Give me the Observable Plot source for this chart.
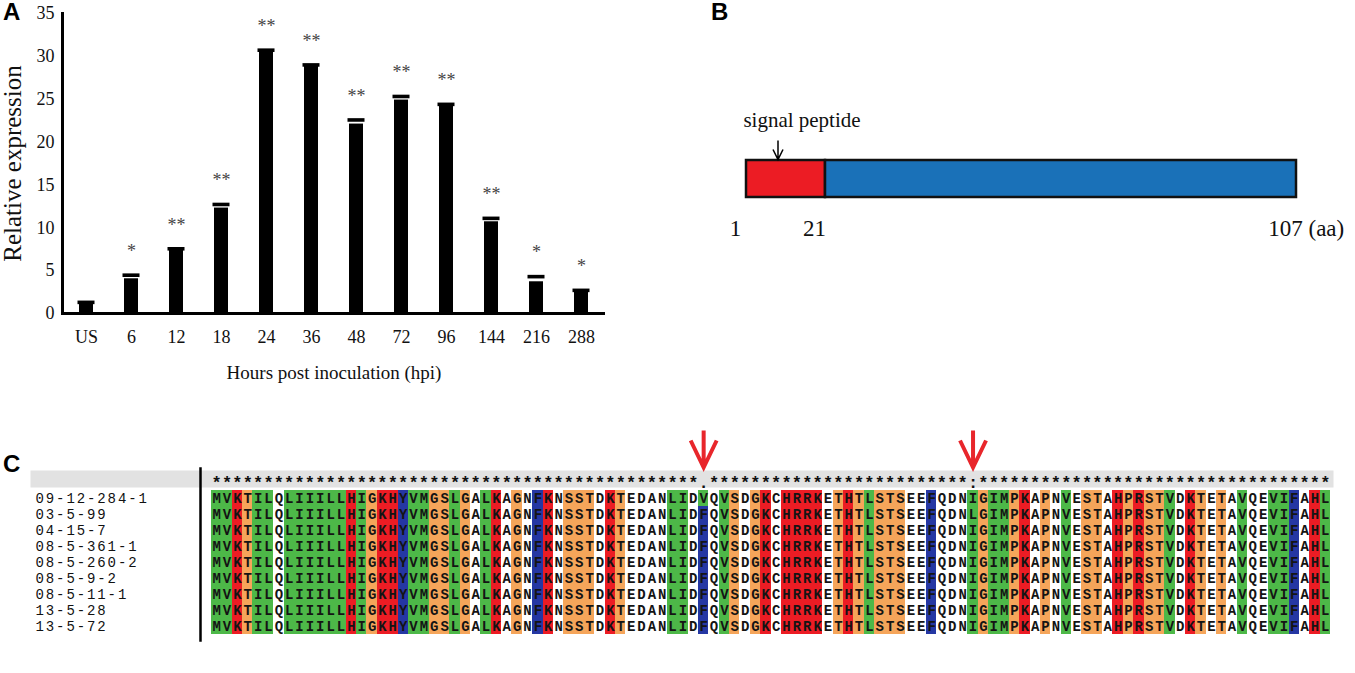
<!DOCTYPE html>
<html><head><meta charset="utf-8">
<script src="https://cdn.jsdelivr.net/npm/d3@7"></script>
<script src="https://cdn.jsdelivr.net/npm/@observablehq/plot@0.6"></script>
<style>
body{margin:0;background:#fff;width:1355px;height:673px;position:relative;overflow:hidden;font-family:"Liberation Serif",serif}
.panel{position:absolute}
.panel svg{display:block;overflow:visible;max-width:none}
.lab{position:absolute;font-family:"Liberation Sans",Arial,sans-serif;font-weight:bold;font-size:24px;line-height:1}
</style></head><body>
<div class="lab" style="left:3px;top:0px">A</div>
<div class="lab" style="left:711px;top:0px">B</div>
<div class="lab" style="left:3px;top:452px">C</div>
<div id="a" class="panel" style="left:0;top:0;width:620px;height:400px"></div>
<div id="b" class="panel" style="left:700px;top:0;width:655px;height:260px"></div>
<div id="c" class="panel" style="left:0;top:420px;width:1355px;height:253px"></div>
<script>
// ---------- Panel A data ----------
const timepoints = ["US","6","12","18","24","36","48","72","96","144","216","288"];
const expression = [1.2, 4.05, 7.45, 12.3, 30.6, 28.9, 22.1, 24.9, 24.3, 10.7, 3.7, 2.6];
const errorBars  = [0.1, 0.42, 0.1, 0.42, 0.12, 0.1, 0.48, 0.42, 0.1, 0.4, 0.6, 0.1];
const significance = ["", "*", "**", "**", "**", "**", "**", "**", "**", "**", "*", "*"];
const yTicks = [0, 5, 10, 15, 20, 25, 30, 35];

// ---------- Panel B data ----------
const proteinRegions = ["signal peptide", "mature protein"];
const regionStart = [1, 21];
const regionEnd = [21, 107];
const positionTicks = [1, 21, 107];
const positionUnit = "(aa)";

// ---------- Panel C data ----------
const isolates = ["09-12-284-1","03-5-99","04-15-7","08-5-361-1","08-5-260-2","08-5-9-2","08-5-11-1","13-5-28","13-5-72"];
const sequences = [
  "MVKTILQLIIILLHIGKHYVMGSLGALKAGNFKNSSTDKTEDANLIDVQVSDGKCHRRKETHTLSTSEEFQDNIGIMPKAPNVESTAHPRSTVDKTETAVQEVIFAHL",
  "MVKTILQLIIILLHIGKHYVMGSLGALKAGNFKNSSTDKTEDANLIDFQVSDGKCHRRKETHTLSTSEEFQDNLGIMPKAPNVESTAHPRSTVDKTETAVQEVIFAHL",
  "MVKTILQLIIILLHIGKHYVMGSLGALKAGNFKNSSTDKTEDANLIDFQVSDGKCHRRKETHTLSTSEEFQDNIGIMPKAPNVESTAHPRSTVDKTETAVQEVIFAHL",
  "MVKTILQLIIILLHIGKHYVMGSLGALKAGNFKNSSTDKTEDANLIDFQVSDGKCHRRKETHTLSTSEEFQDNIGIMPKAPNVESTAHPRSTVDKTETAVQEVIFAHL",
  "MVKTILQLIIILLHIGKHYVMGSLGALKAGNFKNSSTDKTEDANLIDFQVSDGKCHRRKETHTLSTSEEFQDNIGIMPKAPNVESTAHPRSTVDKTETAVQEVIFAHL",
  "MVKTILQLIIILLHIGKHYVMGSLGALKAGNFKNSSTDKTEDANLIDFQVSDGKCHRRKETHTLSTSEEFQDNIGIMPKAPNVESTAHPRSTVDKTETAVQEVIFAHL",
  "MVKTILQLIIILLHIGKHYVMGSLGALKAGNFKNSSTDKTEDANLIDFQVSDGKCHRRKETHTLSTSEEFQDNIGIMPKAPNVESTAHPRSTVDKTETAVQEVIFAHL",
  "MVKTILQLIIILLHIGKHYVMGSLGALKAGNFKNSSTDKTEDANLIDFQVSDGKCHRRKETHTLSTSEEFQDNIGIMPKAPNVESTAHPRSTVDKTETAVQEVIFAHL",
  "MVKTILQLIIILLHIGKHYVMGSLGALKAGNFKNSSTDKTEDANLIDFQVSDGKCHRRKETHTLSTSEEFQDNIGIMPKAPNVESTAHPRSTVDKTETAVQEVIFAHL"
];
const markedPositions = [48, 74];
// Clustal conservation groups
const strongGroups = ["STA","NEQK","NHQK","NDEQ","QHRK","MILV","MILF","HY","FYW"];
const weakGroups = ["CSA","ATV","SAG","STNK","STPA","SGND","SNDEQK","NDEQHK","NEQHRK","FVLIM","HFY"];

// ---------- Panel A ----------
const aData = timepoints.map((t, i) => ({time: t, value: expression[i], err: errorBars[i], sig: significance[i]}));
const plotA = Plot.plot({
  width: 620, height: 400,
  marginLeft: 62, marginRight: 15, marginTop: 13, marginBottom: 87,
  style: {fontFamily: "Liberation Serif", background: "transparent", overflow: "visible"},
  x: {type: "band", domain: timepoints, paddingInner: 0.7, paddingOuter: 0.36},
  y: {domain: [0, 35]},
  marks: [
    Plot.barY(aData, {x: "time", y: "value", fill: "#000"}),
    Plot.tickY(aData, {x: "time", y: d => d.value + d.err, stroke: "#000", strokeWidth: 3.6, insetLeft: -1.5, insetRight: -1.5}),
    Plot.text(aData, {x: "time", y: d => d.value + d.err, text: "sig", dy: -24, fontSize: 18, fill: "#444"}),
    Plot.axisY(yTicks, {tickSize: 0, tickPadding: 8, fontSize: 18, label: null, fill: "#111"}),
    Plot.axisX({tickSize: 0, tickPadding: 17, fontSize: 18, label: null, fill: "#111"}),
    Plot.frame({anchor: "left", strokeWidth: 3, stroke: "#000"}),
    Plot.ruleY([0], {strokeWidth: 3, stroke: "#000"}),
    Plot.text(["Hours post inoculation (hpi)"], {frameAnchor: "bottom", lineAnchor: "middle", dy: 59, fontSize: 19, fill: "#111"}),
    Plot.text(["Relative expression"], {frameAnchor: "left", textAnchor: "middle", lineAnchor: "middle", rotate: -90, dx: -50, fontSize: 25, fill: "#111"})
  ]
});
document.getElementById("a").append(plotA);

// ---------- Panel B ----------
const regionColor = {"signal peptide": "#ec1c24", "mature protein": "#1a71b8"};
const bData = proteinRegions.map((n, i) => ({name: n, start: regionStart[i], end: regionEnd[i]}));
const smallArrow = {draw(ctx) { ctx.moveTo(0, -19); ctx.lineTo(0, 0); ctx.moveTo(-5, -10); ctx.lineTo(0, 0); ctx.lineTo(5, -10); }};
const bigArrow = {draw(ctx) { ctx.moveTo(0, -37); ctx.lineTo(0, 0); ctx.moveTo(-13, -27); ctx.lineTo(0, 0); ctx.lineTo(13, -27); }};
const signal = bData.filter(d => d.name === "signal peptide");
const plotB = Plot.plot({
  width: 655, height: 260,
  marginTop: 160, marginBottom: 63, marginLeft: 46, marginRight: 59,
  style: {fontFamily: "Liberation Serif", background: "transparent", overflow: "visible"},
  x: {type: "linear", domain: [1, 21, 107], range: [46, 125, 596], axis: null},
  marks: [
    Plot.rect(bData, {x1: "start", x2: "end", fill: d => regionColor[d.name], stroke: "#111", strokeWidth: 2.5}),
    Plot.dot(signal, {x: d => (d.start + d.end) / 2, frameAnchor: "top", symbol: smallArrow, stroke: "#000", strokeWidth: 1.5, fill: "none", dx: -8, dy: -1}),
    Plot.text(signal, {x: d => (d.start + d.end) / 2, text: "name", frameAnchor: "top", textAnchor: "middle", lineAnchor: "middle", dx: 16, dy: -40, fontSize: 21, fill: "#111"}),
    Plot.text(positionTicks, {x: d => d, text: d => String(d), frameAnchor: "bottom", textAnchor: "middle", lineAnchor: "middle", dy: 31, dx: -11, fontSize: 23, fill: "#111"}),
    Plot.text([positionUnit], {x: () => positionTicks[positionTicks.length - 1], text: d => d, frameAnchor: "bottom", lineAnchor: "middle", dy: 31, textAnchor: "start", dx: 12, fontSize: 23, fill: "#111"})
  ]
});
document.getElementById("b").append(plotB);

// ---------- Panel C ----------
const residueColor = aa =>
  "ILVM".includes(aa) ? "#4db848" :
  "KRH".includes(aa) ? "#ec1c24" :
  "STGP".includes(aa) ? "#f5a55a" :
  "FY".includes(aa) ? "#2537a3" : null;
const cells = [];
isolates.forEach((name, r) => [...sequences[r]].forEach((aa, i) => cells.push({name, pos: i + 1, aa})));
const positions = d3.range(1, sequences[0].length + 1);
const inGroup = (set, groups) => groups.some(g => [...set].every(c => g.includes(c)));
const consensus = positions.map(p => {
  const col = new Set(sequences.map(s => s[p - 1]));
  const c = col.size === 1 ? "*" : inGroup(col, strongGroups) ? ":" : inGroup(col, weakGroups) ? "." : " ";
  return {pos: p, c};
});
const mono = "Liberation Mono";
const plotC = Plot.plot({
  width: 1355, height: 253,
  marginTop: 50, marginBottom: 186, marginLeft: 30, marginRight: 22,
  style: {background: "transparent", overflow: "visible"},
  x: {type: "band", domain: positions, range: [211, 1330], padding: 0, axis: null},
  y: {type: "band", domain: isolates, range: [69, 214], padding: 0, axis: null},
  marks: [
    Plot.frame({fill: "#e2e2e2", stroke: "none"}),
    Plot.cell(cells.filter(d => residueColor(d.aa)), {x: "pos", y: "name", fill: d => residueColor(d.aa), inset: 0, shapeRendering: "crispEdges"}),
    Plot.text(cells, {x: "pos", y: "name", text: "aa", fontFamily: mono, fontWeight: "bold", fontSize: 14, fill: "#141414"}),
    Plot.text(isolates, {y: d => d, text: d => d, frameAnchor: "left", textAnchor: "start", dx: 5, fontFamily: mono, fontSize: 14, fill: "#111"}),
    Plot.text(consensus, {x: "pos", text: "c", frameAnchor: "middle", lineAnchor: "middle", dy: 4, fontFamily: mono, fontWeight: "bold", fontSize: 17, fill: "#111"}),
    Plot.frame({anchor: "left", insetLeft: 170, insetTop: -2, insetBottom: -153, stroke: "#000", strokeWidth: 2.5}),
    Plot.dot(markedPositions, {x: d => d, frameAnchor: "top", symbol: bigArrow, stroke: "#e8262b", strokeWidth: 4, fill: "none", dy: -3})
  ]
});
// widen the isolate-name labels (second text mark) to the reference's letter pitch
const textGroups = plotC.querySelectorAll('g[aria-label="text"]');
if (textGroups[1]) textGroups[1].setAttribute("letter-spacing", "1.9");
document.getElementById("c").append(plotC);
</script>
</body></html>
